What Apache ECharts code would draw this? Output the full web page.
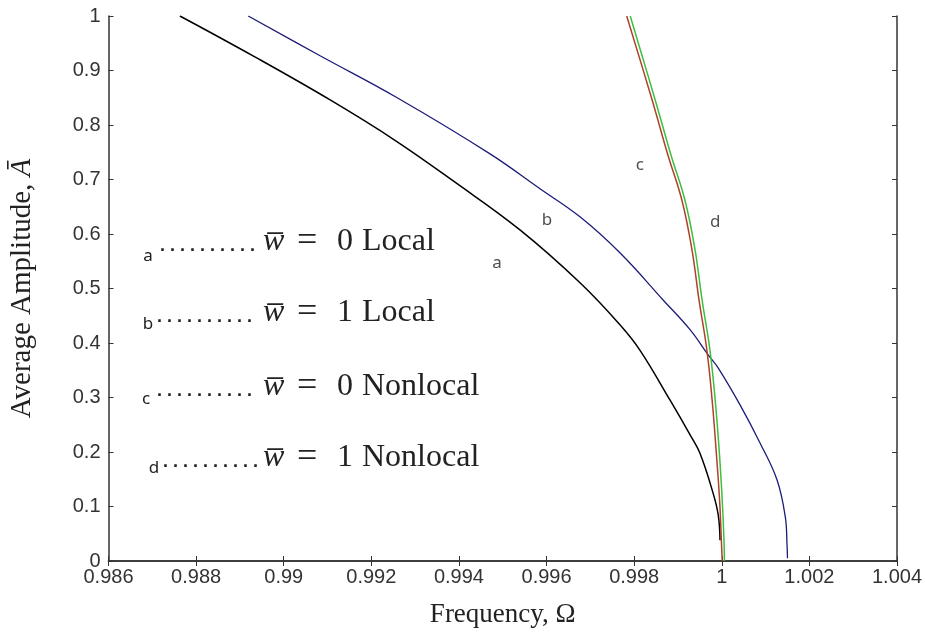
<!DOCTYPE html>
<html><head><meta charset="utf-8">
<script src="https://cdn.jsdelivr.net/npm/echarts@6/dist/echarts.min.js"></script>
<style>html,body{margin:0;padding:0;background:#fff}#c{width:925px;height:632px}</style>
</head><body><div id="c"></div>
<script>
// ---- data ----
const aOmega = [0.98763, 0.98934, 0.99106, 0.99254, 0.99391, 0.99540, 0.99677, 0.99768, 0.99813, 0.99882, 0.99928, 0.99950, 0.99980, 0.99992, 0.99996];
const aAmp   = [1.000,   0.925,   0.846,   0.772,   0.695,   0.607,   0.510,   0.433,   0.387,   0.295,   0.231,   0.198,   0.125,   0.084,   0.038];

const bOmega = [0.98919, 0.99083, 0.99259, 0.99471, 0.99585, 0.99677, 0.99768, 0.99866, 0.99928, 0.99969, 0.99992, 1.00042, 1.00087, 1.00126, 1.00145, 1.00149, 1.00150];
const bAmp   = [1.000,   0.927,   0.850,   0.747,   0.683,   0.631,   0.565,   0.479,   0.424,   0.378,   0.354,   0.286,   0.217,   0.149,   0.081,   0.029,   0.005];

const cOmega = [0.99783, 0.99841, 0.99877, 0.99909, 0.99932, 0.99948, 0.99966, 0.99978, 0.99987, 0.99995, 0.99999, 1.00001];
const cAmp   = [1.000,   0.846,   0.745,   0.662,   0.571,   0.479,   0.387,   0.295,   0.204,   0.112,   0.039,   0.000];

const dOmega = [0.99791, 0.99848, 0.99884, 0.99916, 0.99939, 0.99955, 0.99973, 0.99985, 0.99994, 1.00001, 1.00005, 1.00006];
const dAmp   = [1.000,   0.846,   0.745,   0.662,   0.571,   0.479,   0.387,   0.295,   0.204,   0.112,   0.039,   0.000];

// curve tags placed in data coordinates
const tagNames = ['a', 'b', 'c', 'd'];
const tagOmega = [0.99487, 0.99601, 0.99813, 0.99985];
const tagAmp   = [0.547,   0.626,   0.727,   0.622];

// legend text
const legendLetters = ['a', 'b', 'c', 'd'];
const legendDigits  = ['0', '1', '0', '1'];
const legendWords   = ['Local', 'Local', 'Nonlocal', 'Nonlocal'];

const xMin = 0.986, xMax = 1.004, xStep = 0.002;
const yMin = 0, yMax = 1, yStep = 0.1;

const zip = (xs, ys) => xs.map((x, i) => [x, ys[i]]);

// ---- layout / styles ----
const axisColor = '#333';
const tickFont = { fontFamily: 'Liberation Sans', fontSize: 20, color: '#333' };
const serif = 'Liberation Serif';

const legendRowY = [242, 313, 387, 458];
const letterPos = [[148, 256], [148, 324], [146, 399], [154, 468]];
const dotStart = [160, 157, 157, 163];

const graphics = [];
for (let i = 0; i < 4; i++) {
  const y = legendRowY[i];
  graphics.push({ type: 'text', x: letterPos[i][0], y: letterPos[i][1],
    style: { text: legendLetters[i], font: '17px "Noto Sans"', fill: '#222', align: 'center', verticalAlign: 'middle' } });
  graphics.push({ type: 'text', x: dotStart[i], y: y + 4,
    style: { text: '. . . . . . . . . .', font: 'bold 18px "Liberation Sans"', fill: '#222', align: 'left', verticalAlign: 'middle' } });
  graphics.push({ type: 'text', x: 263, y: y,
    style: { text: 'w\u0305', font: 'italic 32px "Liberation Serif"', fill: '#222', align: 'left', verticalAlign: 'middle' } });
  graphics.push({ type: 'text', x: 297, y: y,
    style: { text: '=', font: '36px "Liberation Serif"', fill: '#222', align: 'left', verticalAlign: 'middle' } });
  graphics.push({ type: 'text', x: 337, y: y,
    style: { text: legendDigits[i], font: '32px "Liberation Serif"', fill: '#222', align: 'left', verticalAlign: 'middle' } });
  graphics.push({ type: 'text', x: 362, y: y,
    style: { text: legendWords[i], font: '32px "Liberation Serif"', fill: '#222', align: 'left', verticalAlign: 'middle' } });
}

const chart = echarts.init(document.getElementById('c'), null, { renderer: 'canvas' });

const baseAxisLine = { show: true, lineStyle: { color: axisColor, width: 1.5 } };
const inTick = { show: true, inside: true, length: 5, lineStyle: { color: axisColor, width: 1 } };
const lineCommon = { type: 'line', smooth: 0.4, showSymbol: false, symbol: 'none' };

chart.setOption({
  animation: false,
  backgroundColor: '#fff',
  grid: { left: 108.5, right: 28, top: 16, bottom: 71, containLabel: false, outerBoundsMode: 'none' },
  xAxis: [
    {
      type: 'value', min: xMin, max: xMax, interval: xStep,
      axisLine: baseAxisLine, axisTick: inTick, splitLine: { show: false },
      axisLabel: Object.assign({ margin: 6, formatter: v => String(+v.toFixed(3)) }, tickFont),
      name: 'Frequency, Ω', nameLocation: 'middle', nameGap: 40,
      nameTextStyle: { fontFamily: serif, fontSize: 27, color: '#222' }
    },
    {
      type: 'value', position: 'top', min: xMin, max: xMax, interval: xStep,
      axisLine: baseAxisLine, axisTick: inTick, axisLabel: { show: false }, splitLine: { show: false }
    }
  ],
  yAxis: [
    {
      type: 'value', min: yMin, max: yMax, interval: yStep,
      axisLine: baseAxisLine, axisTick: inTick, splitLine: { show: false },
      axisLabel: Object.assign({ margin: 8, formatter: v => String(+v.toFixed(1)) }, tickFont),
      name: 'Average Amplitude, {it|Ā}', nameLocation: 'middle', nameGap: 72,
      nameTextStyle: { fontFamily: serif, fontSize: 29, color: '#222',
        rich: { it: { fontFamily: serif, fontSize: 29, fontStyle: 'italic', color: '#222' } } }
    },
    {
      type: 'value', position: 'right', min: yMin, max: yMax, interval: yStep,
      axisLine: baseAxisLine, axisTick: inTick, axisLabel: { show: false }, splitLine: { show: false }
    }
  ],
  series: [
    Object.assign({ data: zip(aOmega, aAmp), lineStyle: { color: '#000', width: 1.5 }, z: 3 }, lineCommon),
    Object.assign({ data: zip(bOmega, bAmp), lineStyle: { color: '#1c1c78', width: 1.3 }, z: 3 }, lineCommon),
    Object.assign({ data: zip(cOmega, cAmp), lineStyle: { color: '#b0402a', width: 1.5 }, z: 4 }, lineCommon),
    Object.assign({ data: zip(dOmega, dAmp), lineStyle: { color: '#3cbf3c', width: 1.5 }, z: 4 }, lineCommon),
    { type: 'scatter', data: tagNames.map((n, i) => ({ name: n, value: [tagOmega[i], tagAmp[i]] })),
      symbolSize: 0, silent: true,
      label: { show: true, position: 'inside', formatter: p => p.name,
        fontFamily: 'Noto Sans', fontSize: 17, color: '#222' } }
  ],
  graphic: graphics
});
</script>
</body></html>
